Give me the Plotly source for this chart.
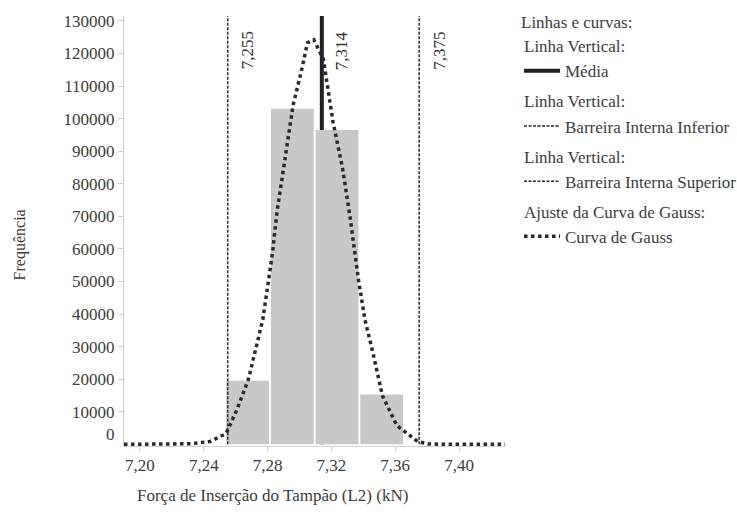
import plotly.graph_objects as go

# histograma (centros das classes e frequencias)
classes = [7.2675, 7.2955, 7.3235, 7.3515]
frequencias = [19500, 103000, 96500, 15300]

# linhas verticais
media = 7.314
barreira_inf = 7.255
barreira_sup = 7.375

# curva de gauss ajustada
gauss_x = [7.190, 7.215, 7.232, 7.244, 7.254, 7.261, 7.268, 7.274, 7.277, 7.280,
           7.283, 7.286, 7.290, 7.296, 7.301, 7.305, 7.309, 7.315, 7.321, 7.327,
           7.332, 7.337, 7.341, 7.346, 7.352, 7.361, 7.374, 7.381, 7.400, 7.430]
gauss_y = [0, 0, 200, 900, 3300, 10900, 20000, 32200, 38300, 48300,
           58600, 71700, 84400, 104200, 114200, 123300, 124200, 118200, 99000, 84700,
           68700, 50400, 38300, 28200, 14900, 5800, 900, 100, 0, 0]

xticks = [7.20, 7.24, 7.28, 7.32, 7.36, 7.40]
xticks_txt = ["7,20", "7,24", "7,28", "7,32", "7,36", "7,40"]
yticks = [10000, 20000, 30000, 40000, 50000, 60000, 70000, 80000, 90000,
          100000, 110000, 120000, 130000]

fonte = "'Liberation Serif', 'Times New Roman', serif"
cinza = "#3c3c3c"
y_topo = 131500

fig = go.Figure()

# media atras das barras, como no original
fig.add_shape(
    type="line", x0=media, x1=media, y0=0, y1=y_topo, layer="below",
    line=dict(color="#222222", width=4),
    name="Média", showlegend=True, legendgroup="g1",
    legendgrouptitle_text="Linha Vertical:", legendrank=1
)

fig.add_trace(go.Bar(
    x=classes, y=frequencias, width=0.0268,
    marker=dict(color="#c8c8c8", line=dict(width=0)),
    showlegend=False, hoverinfo="skip"
))

fig.add_trace(go.Scatter(
    x=[barreira_inf, barreira_inf], y=[0, y_topo], mode="lines",
    line=dict(color="#2a2a2a", width=1.5, dash="3px,1.5px"),
    name="Barreira Interna Inferior", legendgroup="g2",
    legendgrouptitle_text="Linha Vertical:", legendrank=2
))

fig.add_trace(go.Scatter(
    x=[barreira_sup, barreira_sup], y=[0, y_topo], mode="lines",
    line=dict(color="#2a2a2a", width=1.5, dash="3px,1.5px"),
    name="Barreira Interna Superior", legendgroup="g3",
    legendgrouptitle_text="Linha Vertical:", legendrank=3
))

fig.add_trace(go.Scatter(
    x=gauss_x, y=gauss_y, mode="lines",
    line=dict(color="#2a2a2a", width=3.5, dash="dot"),
    name="Curva de Gauss", legendgroup="g4",
    legendgrouptitle_text="Ajuste da Curva de Gauss:", legendrank=4
))

# rotulos das linhas verticais
for v in [barreira_inf, media, barreira_sup]:
    fig.add_annotation(
        x=v, y=120900, text=f"{v:.3f}".replace(".", ","),
        textangle=-90, showarrow=False, xshift=20,
        font=dict(family=fonte, size=17, color="#333333")
    )

# rotulo do zero, deslocado para cima como no original
fig.add_annotation(
    xref="paper", x=0, y=0, text="0", showarrow=False,
    xanchor="right", xshift=-7, yshift=10,
    font=dict(family=fonte, size=17, color=cinza)
)

# titulos dos eixos
fig.add_annotation(
    xref="paper", yref="paper", x=(272 - 124) / 381, y=-0.088,
    yanchor="top", text="Força de Inserção do Tampão (L2) (kN)",
    showarrow=False, font=dict(family=fonte, size=17, color=cinza)
)
fig.add_annotation(
    xref="paper", yref="paper", x=(9 - 124) / 381, y=(446 - 244) / 433,
    text="Frequência", textangle=-90, showarrow=False,
    font=dict(family=fonte, size=16, color=cinza)
)

fig.update_layout(
    width=737,
    height=516,
    margin=dict(l=124, r=232, t=13, b=70),
    plot_bgcolor="white",
    paper_bgcolor="white",
    font=dict(family=fonte, size=17, color=cinza),
    showlegend=True,
    legend=dict(
        title=dict(text="Linhas e curvas:", side="top",
                   font=dict(family=fonte, size=17, color=cinza)),
        xref="container", yref="container",
        x=519 / 737, xanchor="left", y=1 - 6 / 516, yanchor="top",
        font=dict(family=fonte, size=17, color=cinza),
        grouptitlefont=dict(family=fonte, size=17, color=cinza),
        tracegroupgap=5, itemwidth=36
    ),
    xaxis=dict(
        range=[7.19, 7.4288],
        tickvals=xticks, ticktext=xticks_txt,
        showgrid=False, zeroline=False,
        showline=True, linecolor="#d0d0d0", linewidth=1,
        ticks="outside", ticklen=4, tickcolor="#d0d0d0"
    ),
    yaxis=dict(
        range=[-500, y_topo],
        tickvals=yticks, tickformat="d",
        showgrid=False, zeroline=False,
        showline=True, linecolor="#d0d0d0", linewidth=1,
        ticks="outside", ticklen=5, tickcolor="#d0d0d0"
    ),
)

fig.write_html("out.html", config={"displayModeBar": False},
               post_script="document.body.style.margin = '0';")
